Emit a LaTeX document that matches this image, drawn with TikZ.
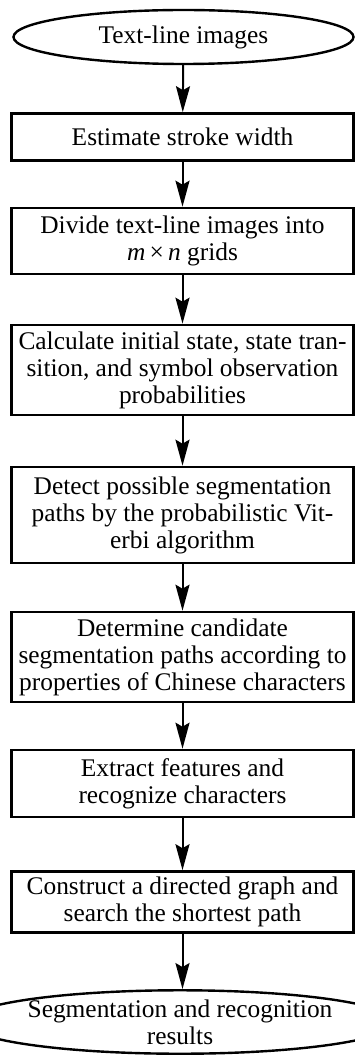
\documentclass[tikz,border=0pt]{standalone}
\usepackage{fontspec}
\setmainfont{Liberation Serif}
\usetikzlibrary{arrows.meta,shapes.geometric}
\begin{document}
\begin{tikzpicture}[x=1pt,y=-1pt,
  stepbox/.style={draw,line width=2.6pt,rectangle,minimum width=342pt,inner sep=0pt,align=center,
    font=\fontsize{25.4}{27}\selectfont},
  termnode/.style={draw,line width=2.4pt,ellipse,inner sep=0pt,align=center,
    font=\fontsize{25.4}{27}\selectfont},
  flow/.style={line width=2pt,-{Stealth[width=14pt,length=26pt,inset=4pt]}}]
\useasboundingbox (0,0) rectangle (355,1056);
\node[termnode,minimum width=340pt,minimum height=54pt] (t1) at (183.5,37) {Text-line images};
\node[stepbox,minimum height=47pt] (b1) at (182.5,137) {Estimate stroke width};
\node[stepbox,minimum height=66pt] (b2) at (182.5,241) {Divide text-line images into\\ \textit{m}\,×\,\textit{n} grids};
\node[stepbox,minimum height=90pt] (b3) at (182.5,370) {Calculate initial state, state tran-\\sition, and symbol observation\\probabilities};
\node[stepbox,minimum height=96pt] (b4) at (182.5,515) {Detect possible segmentation\\paths by the probabilistic Vit-\\erbi algorithm};
\node[stepbox,minimum height=90pt] (b5) at (182.5,657) {Determine candidate\\segmentation paths according to\\properties of Chinese characters};
\node[stepbox,minimum height=67pt] (b6) at (182.5,783.5) {Extract features and\\recognize characters};
\node[stepbox,minimum height=61pt] (b7) at (182.5,902) {Construct a directed graph and\\search the shortest path};
\node[termnode,minimum width=346pt,minimum height=63pt] (t2) at (180,1022) {Segmentation and recognition\\results};
\draw[flow] (t1) -- (b1);
\draw[flow] (b1) -- (b2);
\draw[flow] (b2) -- (b3);
\draw[flow] (b3) -- (b4);
\draw[flow] (b4) -- (b5);
\draw[flow] (b5) -- (b6);
\draw[flow] (b6) -- (b7);
\draw[flow] (b7.south) -- (b7.south |- t2.north);
\end{tikzpicture}
\end{document}
